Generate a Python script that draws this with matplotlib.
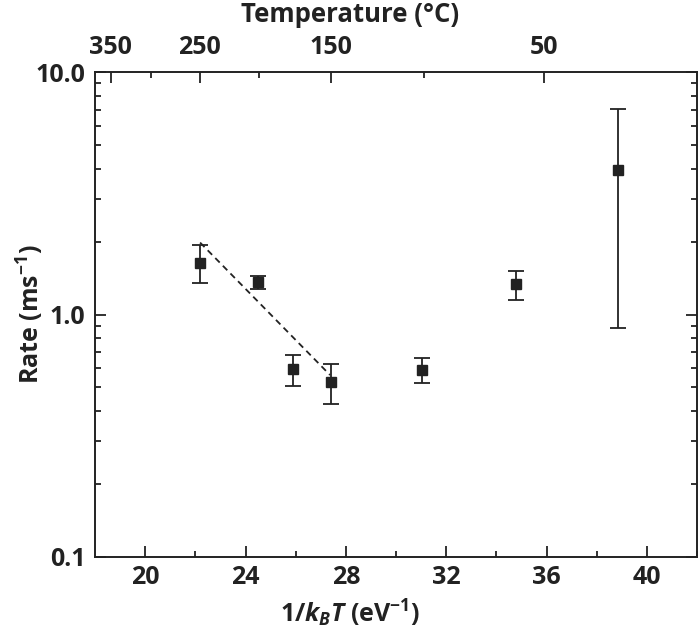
import numpy as np
import matplotlib
matplotlib.use("Agg")
import matplotlib.pyplot as plt
from matplotlib.ticker import FixedLocator, LogLocator, NullFormatter, FixedFormatter

# data
inv_kt = [22.19, 24.50, 25.88, 27.40, 31.05, 34.77, 38.84]
rate = [1.635, 1.366, 0.596, 0.527, 0.591, 1.332, 3.94]
rate_hi = [1.935, 1.442, 0.681, 0.625, 0.660, 1.51, 7.04]
rate_lo = [1.349, 1.274, 0.507, 0.428, 0.523, 1.148, 0.877]

fit_x = [22.19, 27.37]
fit_y = [1.98, 0.563]

temp_major = [350, 250, 150, 50]
temp_minor = [300, 200, 100]
kb = 8.617e-5

plt.rcParams['font.family'] = ['Open Sans', 'DejaVu Sans']
plt.rcParams['font.weight'] = 'bold'
plt.rcParams['axes.labelweight'] = 'bold'
plt.rcParams['mathtext.fontset'] = 'custom'
plt.rcParams['mathtext.rm'] = 'Open Sans:bold'
plt.rcParams['mathtext.it'] = 'Open Sans:italic:bold'
plt.rcParams['mathtext.bf'] = 'Open Sans:bold'

col = '#222222'
fs = 18

fig = plt.figure(figsize=(7, 6.35), dpi=100)
ax = fig.add_axes([95 / 700, 78 / 635, 602 / 700, 485 / 635])

yerr = [np.array(rate) - np.array(rate_lo), np.array(rate_hi) - np.array(rate)]
ax.errorbar(inv_kt, rate, yerr=yerr, fmt='s', color=col, ms=7.5,
            capsize=5.5, elinewidth=1.3, capthick=1.3, zorder=3)
ax.plot(fit_x, fit_y, '--', color=col, lw=1.3, dashes=(3.5, 2.5))

ax.set_yscale('log')
ax.set_xlim(18, 42)
ax.set_ylim(0.1, 10)
ax.set_xticks([20, 24, 28, 32, 36, 40])
ax.xaxis.set_minor_locator(FixedLocator([22, 26, 30, 34, 38, 42]))
ax.yaxis.set_major_locator(FixedLocator([0.1, 1, 10]))
ax.yaxis.set_major_formatter(FixedFormatter(['0.1', '1.0', '10.0']))
ax.yaxis.set_minor_locator(LogLocator(base=10, subs=np.arange(2, 10)))
ax.yaxis.set_minor_formatter(NullFormatter())

ax.tick_params(which='both', direction='in', color=col, width=1.3,
               labelsize=fs, labelcolor=col, right=True, top=False)
ax.tick_params(which='major', length=8)
ax.tick_params(which='minor', length=4.5)
ax.tick_params(axis='x', pad=6)
ax.tick_params(axis='y', pad=7)
for s in ax.spines.values():
    s.set_color(col)
    s.set_linewidth(1.4)

ax.set_xlabel(r'1/$\mathit{k}_\mathit{B}\mathit{T}$ (eV$^{-1}$)', fontsize=fs, color=col)
ax.set_ylabel(r'Rate (ms$^{\mathrm{-1}}$)', fontsize=fs, color=col)
# labels in the original sit a bit left of the axis centre
ax.xaxis.set_label_coords(0.4236, -0.084)
ax.yaxis.set_label_coords(-0.081, 0.5)

# top axis: temperature in °C
top = ax.twiny()
top.set_xlim(ax.get_xlim())
top.set_xticks([1 / (kb * (t + 273.15)) for t in temp_major])
top.set_xticklabels([str(t) for t in temp_major])
top.xaxis.set_minor_locator(FixedLocator([1 / (kb * (t + 273.15)) for t in temp_minor]))
top.tick_params(which='both', direction='in', color=col, width=1.3,
                labelsize=fs, labelcolor=col, pad=9)
top.tick_params(which='major', length=8)
top.tick_params(which='minor', length=4.5)
top.set_xlabel('Temperature (°C)', fontsize=fs + 0.5, color=col)
top.xaxis.set_label_coords(0.4236, 1.103)
for s in top.spines.values():
    s.set_visible(False)

fig.savefig('out.png', dpi=100)
